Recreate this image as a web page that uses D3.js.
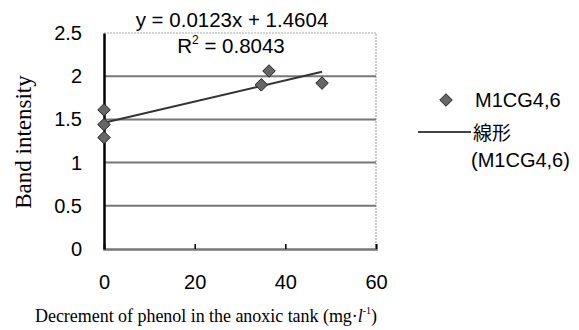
<!DOCTYPE html>
<html>
<head>
<meta charset="utf-8">
<script src="https://cdn.jsdelivr.net/npm/d3@7"></script>
<style>
  body { margin: 0; background: #fff; }
</style>
</head>
<body>
<div id="chart"></div>
<script>
// data
const decrement = [0, 0, 0, 34.7, 36.4, 48.1];
const intensity = [1.61, 1.44, 1.29, 1.90, 2.06, 1.92];
const xTicks = [0, 20, 40, 60];
const yTicks = [0, 0.5, 1, 1.5, 2, 2.5];
const yTickLabels = ["0", "0.5", "1", "1.5", "2", "2.5"];
const slope = 0.0123;
const intercept = 1.4604;
const eqText = "y = 0.0123x + 1.4604";
const r2Value = "0.8043";
const seriesName = "M1CG4,6";

const width = 579;
const height = 330;
const margin = { top: 33, right: 203, bottom: 81, left: 104 };

const x = d3.scaleLinear()
  .domain([0, 60])
  .range([margin.left, width - margin.right]);
const y = d3.scaleLinear()
  .domain([0, 2.5])
  .range([height - margin.bottom, margin.top]);

const svg = d3.select("#chart").append("svg")
  .attr("width", width)
  .attr("height", height);

const sans = "'Liberation Sans', Arial, sans-serif";
const serif = "'Liberation Serif', 'Times New Roman', serif";

// plot frame (top + right, light dotted)
svg.append("path")
  .attr("d", `M${x(0)},${y(2.5)}H${x(60)}V${y(0)}`)
  .attr("fill", "none")
  .attr("stroke", "#aaa")
  .attr("stroke-width", 1.2)
  .attr("stroke-dasharray", "2,1");

// gridlines
svg.append("g")
  .selectAll("line")
  .data(yTicks.filter(d => d > 0 && d < 2.5))
  .enter()
  .append("line")
  .attr("x1", x(0))
  .attr("x2", x(60))
  .attr("y1", d => y(d))
  .attr("y2", d => y(d))
  .attr("stroke", "#777")
  .attr("stroke-width", 2);

// x axis
const xAxis = svg.append("g")
  .attr("transform", `translate(0,${y(0)})`)
  .call(d3.axisBottom(x).tickValues(xTicks).tickSize(-5).tickPadding(26).tickFormat(d3.format("d")));
xAxis.select(".domain").attr("stroke", "#777").attr("stroke-width", 2.5);
xAxis.selectAll(".tick line").attr("stroke", "#000").attr("stroke-width", 1.5)
  .filter(d => d === 0).remove();
xAxis.selectAll(".tick text")
  .attr("font-family", sans)
  .attr("font-size", 20)
  .attr("fill", "#000");

// y axis
const yAxis = svg.append("g")
  .attr("transform", `translate(${x(0)},0)`)
  .call(d3.axisLeft(y).tickValues(yTicks).tickSize(0).tickPadding(22)
    .tickFormat((d, i) => yTickLabels[i]));
yAxis.select(".domain").attr("stroke", "#000").attr("stroke-width", 2.5);
yAxis.selectAll(".tick text")
  .attr("font-family", sans)
  .attr("font-size", 20)
  .attr("fill", "#000");

// trend line
const trendX = [0, d3.max(decrement)];
svg.append("line")
  .attr("x1", x(trendX[0]))
  .attr("y1", y(intercept + slope * trendX[0]))
  .attr("x2", x(trendX[1]))
  .attr("y2", y(intercept + slope * trendX[1]))
  .attr("stroke", "#333")
  .attr("stroke-width", 2);

// markers
const diamond = d3.symbol().type(d3.symbolDiamond2).size(100);
svg.append("g")
  .selectAll("path")
  .data(decrement.map((d, i) => [d, intensity[i]]))
  .enter()
  .append("path")
  .attr("d", diamond)
  .attr("transform", d => `translate(${x(d[0])},${y(d[1])})`)
  .attr("fill", "#666")
  .attr("stroke", "#222")
  .attr("stroke-width", 1);

// equation
svg.append("text")
  .attr("x", 232)
  .attr("y", 27)
  .attr("text-anchor", "middle")
  .attr("font-family", sans)
  .attr("font-size", 20.5)
  .text(eqText);
const r2 = svg.append("text")
  .attr("x", 231)
  .attr("y", 53)
  .attr("text-anchor", "middle")
  .attr("font-family", sans)
  .attr("font-size", 20.5);
r2.append("tspan").text("R");
r2.append("tspan").attr("font-size", 12).attr("dy", -9).text("2");
r2.append("tspan").attr("dy", 9).text(" = " + r2Value);

// legend
svg.append("path")
  .attr("d", d3.symbol().type(d3.symbolDiamond2).size(100))
  .attr("transform", "translate(446,100)")
  .attr("fill", "#666")
  .attr("stroke", "#222");
svg.append("text")
  .attr("x", 475)
  .attr("y", 107)
  .attr("font-family", sans)
  .attr("font-size", 20)
  .text(seriesName);
svg.append("line")
  .attr("x1", 418).attr("x2", 471)
  .attr("y1", 132).attr("y2", 132)
  .attr("stroke", "#444")
  .attr("stroke-width", 2);
svg.append("text")
  .attr("x", 473)
  .attr("y", 140)
  .attr("font-family", "'Noto Sans CJK JP', sans-serif")
  .attr("font-size", 19)
  .text("線形");
svg.append("text")
  .attr("x", 471)
  .attr("y", 167)
  .attr("font-family", sans)
  .attr("font-size", 20)
  .text("(" + seriesName + ")");

// axis titles
svg.append("text")
  .attr("transform", "translate(31,142) rotate(-90)")
  .attr("text-anchor", "middle")
  .attr("font-family", serif)
  .attr("font-size", 23)
  .text("Band intensity");

const xt = svg.append("text")
  .attr("x", 35)
  .attr("y", 322)
  .attr("font-family", serif)
  .attr("font-size", 18)
  .attr("textLength", 342);
xt.append("tspan").text("Decrement of phenol in the anoxic tank (mg\u00b7");
xt.append("tspan").attr("font-style", "italic").text("l");
xt.append("tspan").attr("font-size", 10).attr("dy", -8).text("-1");
xt.append("tspan").attr("dy", 8).text(")");
</script>
</body>
</html>
